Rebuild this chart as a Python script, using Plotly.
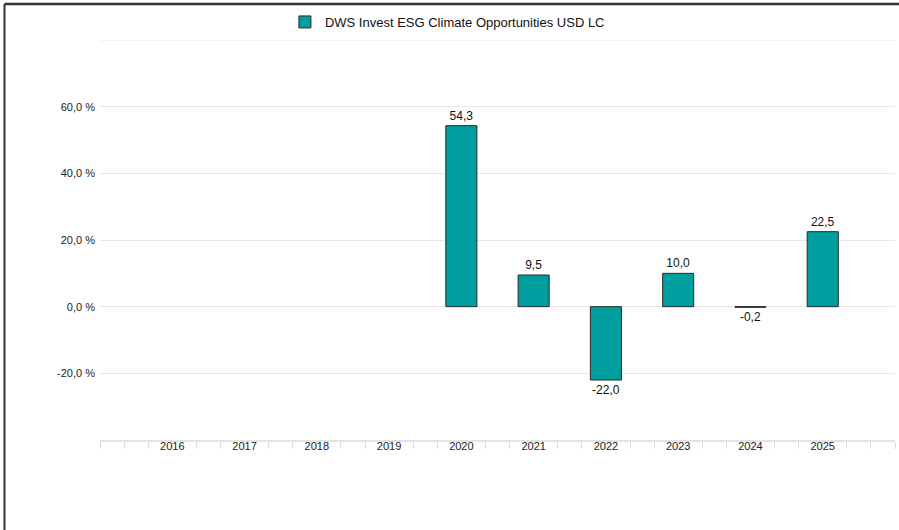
import plotly.graph_objects as go

years = [2016, 2017, 2018, 2019, 2020, 2021, 2022, 2023, 2024, 2025]
values = [None, None, None, None, 54.3, 9.5, -22.0, 10.0, -0.2, 22.5]
series_name = "DWS Invest ESG Climate Opportunities USD LC"
y_ticks = [-20, 0, 20, 40, 60, 80]
y_ticktext = ["-20,0 %", "0,0 %", "20,0 %", "40,0 %", "60,0 %", ""]

fig = go.Figure()
fig.add_trace(go.Bar(
    x=years, y=values, name=series_name,
    width=0.43,
    marker=dict(color="#009e9e", line=dict(color="#2a2a2a", width=1)),
    text=[None if v is None else f"{v:.1f}".replace(".", ",") for v in values],
    textposition="outside",
    textfont=dict(family="Liberation Sans, Arial", size=12, color="#111111"),
    cliponaxis=False,
    showlegend=True,
))

fig.update_layout(
    width=899, height=530,
    margin=dict(l=100, r=4, t=40, b=90, autoexpand=False),
    paper_bgcolor="white", plot_bgcolor="white",
    font=dict(family="Liberation Sans, Arial", size=11, color="#222222"),
    separators=",.",
    showlegend=True,
    legend=dict(orientation="h", x=0.437, xanchor="center", y=1.045, yanchor="middle",
                font=dict(size=13, color="#111111")),
    xaxis=dict(
        range=[2015, 2026], tickvals=years, ticktext=[str(y) for y in years],
        ticks="", showgrid=False, zeroline=False,
        showline=True, linecolor="#e3e3e3", linewidth=2,
        minor=dict(tick0=2015, dtick=1/3, ticks="outside", ticklen=7,
                   tickcolor="#dddddd", tickwidth=1, showgrid=False),
        ticklabelstandoff=-5,
        tickfont=dict(size=11, color="#222222"),
    ),
    yaxis=dict(
        range=[-40, 80], tickvals=y_ticks, ticktext=y_ticktext,
        showgrid=True, gridcolor="#e8e8e8", gridwidth=1,
        zeroline=False, showline=False, ticks="", ticklabelstandoff=4,
        tickfont=dict(size=11, color="#222222"),
    ),
)

# top gridline at the range edge
fig.add_shape(type="line", xref="paper", yref="y", x0=0, x1=1, y0=80, y1=80,
              layer="below", line=dict(color="#e8e8e8", width=1))

# frame lines (screenshot border)
fig.add_shape(type="line", xref="paper", yref="paper",
              x0=(4.5 - 100) / 795, x1=(899 - 100) / 795,
              y0=1 + (40 - 4) / 400, y1=1 + (40 - 4) / 400,
              line=dict(color="#333333", width=2.5))
fig.add_shape(type="line", xref="paper", yref="paper",
              x0=(4.5 - 100) / 795, x1=(4.5 - 100) / 795,
              y0=1 + (40 - 4) / 400, y1=(440 - 530) / 400,
              line=dict(color="#333333", width=2))

fig.write_html("out.html", config={"displayModeBar": False},
               post_script="document.body.style.margin='0';document.body.style.overflow='hidden';")
